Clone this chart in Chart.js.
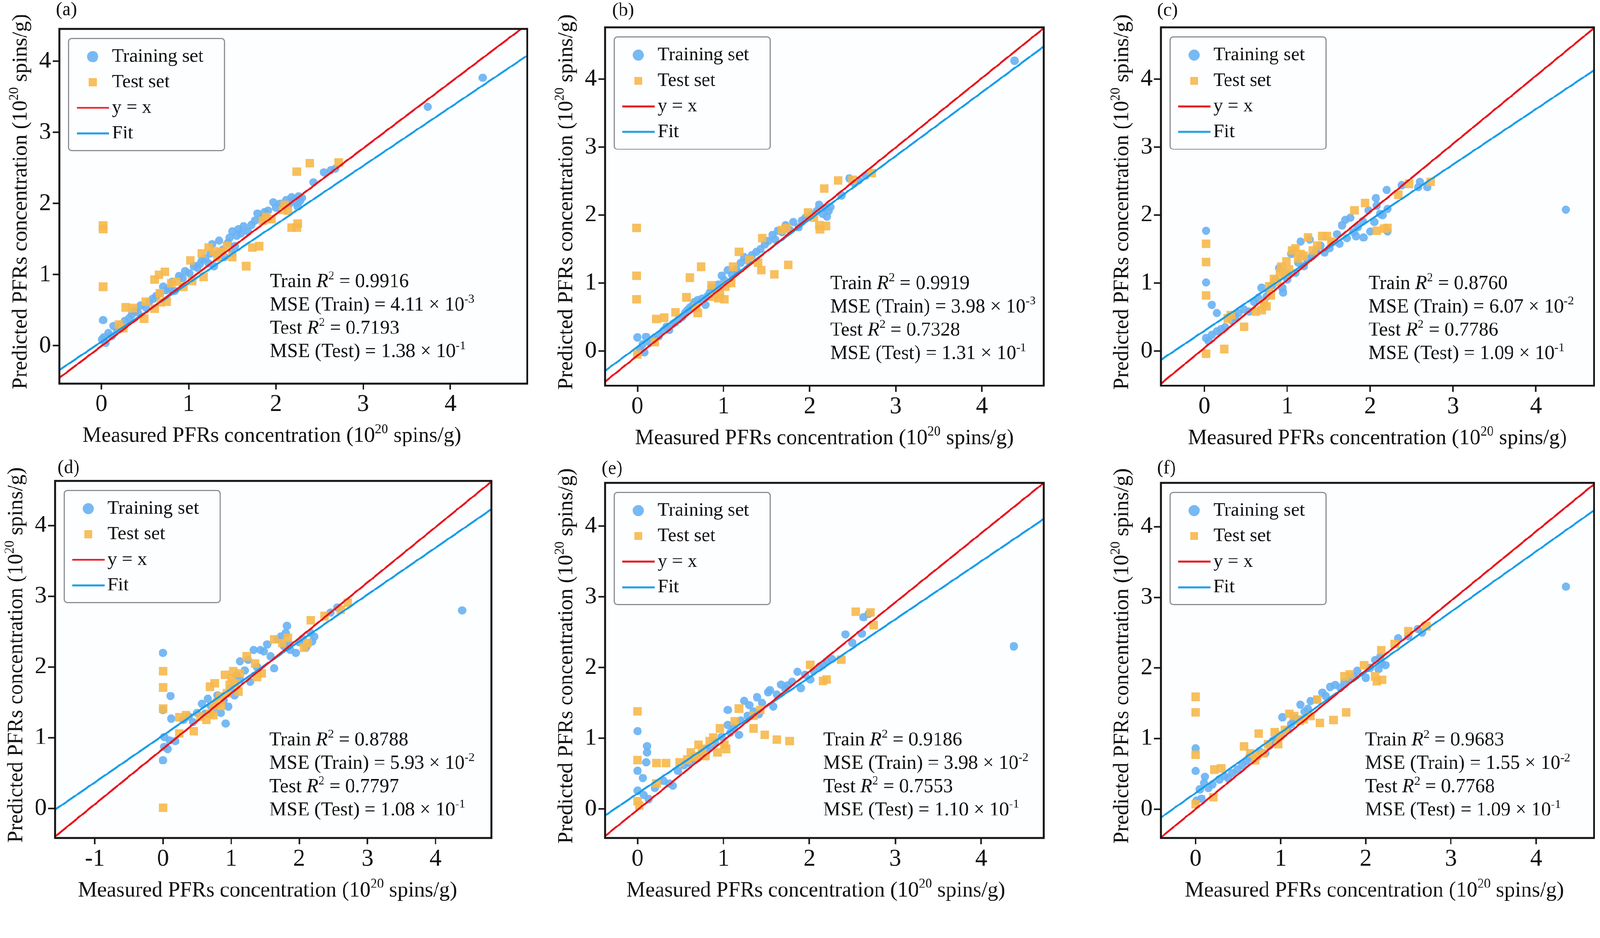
<!DOCTYPE html>
<html>
<head>
<meta charset="utf-8">
<title>PFRs prediction parity plots</title>
<script src="https://cdn.jsdelivr.net/npm/chart.js@4.4.1/dist/chart.umd.min.js"></script>
<style>
  html, body { margin: 0; padding: 0; background: #fff; overflow: hidden; }
  #page { width: 4252px; height: 2401px; position: relative; transform-origin: 0 0; }
  .cell { position: absolute; }
</style>
</head>
<body>
<div id="page">
  <div class="cell" id="cell-a"><canvas id="chart-a"></canvas></div>
  <div class="cell" id="cell-b"><canvas id="chart-b"></canvas></div>
  <div class="cell" id="cell-c"><canvas id="chart-c"></canvas></div>
  <div class="cell" id="cell-d"><canvas id="chart-d"></canvas></div>
  <div class="cell" id="cell-e"><canvas id="chart-e"></canvas></div>
  <div class="cell" id="cell-f"><canvas id="chart-f"></canvas></div>
</div>

<script>
// ---- data ----
const legendLabels = ["Training set", "Test set", "y = x", "Fit"];
const xTitle = ["Measured PFRs concentration (10", "20", " spins/g)"];
const yTitle = ["Predicted PFRs concentration (10", "20", " spins/g)"];
const xTicks = [0, 1, 2, 3, 4];
const xTicksD = [-1, 0, 1, 2, 3, 4];
const yTicks = [0, 1, 2, 3, 4];

// (a)
const trainA = [[0.02,0.36],[0.03,0.12],[0.05,0.04],[0.01,0.09],[0.14,0.28],[0.12,0.14],[0.08,0.18],[0.18,0.22],[0.22,0.30],
  [0.27,0.35],[0.32,0.39],[0.35,0.44],[0.38,0.49],[0.42,0.47],[0.45,0.57],[0.51,0.54],[0.55,0.62],[0.59,0.66],[0.63,0.70],
  [0.67,0.74],[0.71,0.83],[0.74,0.78],[0.78,0.80],[0.81,0.90],[0.84,0.77],[0.89,0.98],[0.93,0.95],[0.96,1.05],[1.01,1.02],
  [1.06,1.12],[1.10,1.10],[1.13,1.15],[1.15,1.20],[1.19,1.23],[1.23,1.16],[1.25,1.30],[1.27,1.43],[1.29,1.12],[1.33,1.29],
  [1.35,1.48],[1.39,1.35],[1.41,1.25],[1.45,1.45],[1.47,1.52],[1.50,1.61],[1.50,1.30],[1.53,1.40],[1.55,1.55],[1.57,1.64],
  [1.60,1.58],[1.63,1.68],[1.68,1.61],[1.72,1.70],[1.76,1.76],[1.79,1.86],[1.84,1.80],[1.87,1.88],[1.91,1.90],[1.97,2.02],
  [2.00,1.94],[2.05,2.00],[2.12,2.05],[2.16,2.00],[2.18,2.09],[2.21,2.06],[2.24,2.01],[2.25,1.96],[2.26,2.10],[2.28,2.04],
  [2.30,2.08],[2.43,2.30],[2.55,2.44],[2.63,2.47],[2.68,2.49],[3.74,3.36],[4.37,3.77]];
const testA = [[0.02,1.69],[0.02,1.64],[0.02,0.83],[0.20,0.30],[0.25,0.25],[0.28,0.54],[0.36,0.53],[0.49,0.38],[0.51,0.62],
  [0.61,0.52],[0.61,0.93],[0.66,1.00],[0.67,0.74],[0.68,0.61],[0.73,1.04],[0.75,0.62],[0.80,0.88],[0.86,0.90],[0.94,0.83],
  [1.02,1.20],[1.04,0.91],[1.15,1.30],[1.17,0.97],[1.23,1.38],[1.29,1.33],[1.33,1.25],[1.38,1.32],[1.44,1.40],[1.50,1.25],
  [1.66,1.12],[1.73,1.38],[1.81,1.40],[1.85,1.76],[1.89,1.81],[1.95,1.78],[2.08,1.91],[2.10,1.98],[2.14,1.90],[2.18,1.66],
  [2.24,1.66],[2.25,1.72],[2.24,2.45],[2.39,2.57],[2.72,2.58]];
const identityA = [[-0.48,-0.45],[4.81,4.455]];
const fitA = [[-0.48,-0.34],[4.88,4.08]];
const statsA = ["0.9916", "4.11", "-3", "0.7193", "1.38", "-1"];

// (b)
const trainB = [[0.00,0.20],[0.08,-0.02],[0.10,0.21],[0.03,0.02],[0.06,0.10],[0.15,0.12],[0.20,0.18],[0.25,0.22],[0.30,0.30],
  [0.34,0.36],[0.37,0.31],[0.41,0.40],[0.44,0.42],[0.48,0.47],[0.52,0.50],[0.55,0.56],[0.58,0.60],[0.61,0.64],[0.64,0.67],
  [0.66,0.72],[0.70,0.75],[0.75,0.77],[0.79,0.68],[0.81,0.80],[0.84,0.86],[0.86,0.93],[0.90,0.89],[0.94,0.98],[0.98,1.11],
  [1.01,1.04],[1.05,1.19],[1.10,1.12],[1.15,1.20],[1.20,1.30],[1.24,1.38],[1.28,1.33],[1.33,1.41],[1.38,1.46],[1.43,1.50],
  [1.48,1.57],[1.52,1.62],[1.57,1.71],[1.60,1.64],[1.63,1.77],[1.68,1.75],[1.72,1.85],[1.77,1.78],[1.81,1.90],[1.87,1.82],
  [1.91,1.92],[1.95,1.96],[2.02,2.00],[2.08,2.06],[2.11,2.15],[2.15,2.02],[2.18,2.10],[2.20,1.98],[2.22,2.06],[2.24,2.12],
  [2.37,2.29],[2.46,2.54],[2.52,2.47],[2.57,2.51],[2.65,2.58],[4.38,4.27]];
const testB = [[-0.01,1.81],[-0.01,1.11],[-0.01,0.76],[0.00,-0.05],[0.20,0.13],[0.22,0.47],[0.31,0.49],[0.44,0.57],[0.57,0.79],
  [0.61,1.08],[0.68,0.64],[0.70,0.56],[0.74,1.24],[0.86,0.97],[0.88,0.80],[0.94,0.78],[0.96,0.84],[1.01,0.76],[1.02,0.95],
  [1.09,1.00],[1.11,1.24],[1.18,1.46],[1.30,1.34],[1.40,1.30],[1.44,1.19],[1.45,1.66],[1.59,1.13],[1.68,1.78],[1.73,1.81],
  [1.75,1.27],[1.98,2.04],[2.05,1.96],[2.11,1.85],[2.12,1.79],[2.19,1.84],[2.17,2.39],[2.33,2.51],[2.50,2.52],[2.72,2.62]];
const identityB = [[-0.376,-0.45],[4.72,4.75]];
const fitB = [[-0.376,-0.29],[4.72,4.48]];
const statsB = ["0.9919", "3.98", "-3", "0.7328", "1.31", "-1"];

// (c)
const trainC = [[0.02,1.77],[0.02,1.01],[0.09,0.68],[0.15,0.56],[0.02,0.19],[0.05,0.15],[0.09,0.24],[0.15,0.29],[0.20,0.32],
  [0.25,0.35],[0.33,0.45],[0.37,0.50],[0.41,0.56],[0.48,0.61],[0.54,0.58],[0.60,0.72],[0.65,0.78],[0.69,0.93],[0.75,0.80],
  [0.78,0.88],[0.82,0.97],[0.86,1.05],[0.90,1.22],[0.94,0.93],[0.95,0.86],[1.00,1.05],[1.02,1.12],[1.05,1.43],[1.10,1.15],
  [1.13,1.30],[1.16,1.61],[1.20,1.25],[1.24,1.35],[1.27,1.64],[1.30,1.40],[1.35,1.48],[1.40,1.55],[1.45,1.45],[1.51,1.51],
  [1.55,1.60],[1.60,1.72],[1.63,1.58],[1.66,1.85],[1.70,1.93],[1.72,1.66],[1.76,1.96],[1.80,1.75],[1.83,1.69],[1.85,1.82],
  [1.91,1.91],[1.92,1.67],[1.98,2.07],[2.00,1.76],[2.05,1.90],[2.07,2.25],[2.08,2.14],[2.12,2.02],[2.15,2.00],[2.20,2.37],
  [2.21,2.09],[2.21,1.76],[2.38,2.44],[2.58,2.41],[2.60,2.49],[2.69,2.41],[4.36,2.08]];
const testC = [[0.02,1.58],[0.02,1.31],[0.02,0.82],[0.02,-0.04],[0.24,0.03],[0.28,0.48],[0.32,0.53],[0.48,0.36],[0.62,0.58],
  [0.69,0.60],[0.72,0.70],[0.75,0.66],[0.78,0.95],[0.80,0.82],[0.84,1.06],[0.88,1.02],[0.91,1.15],[0.93,1.24],[0.97,1.14],
  [0.99,1.32],[1.02,1.20],[1.06,1.48],[1.10,1.51],[1.13,1.36],[1.16,1.43],[1.20,1.40],[1.25,1.67],[1.31,1.48],[1.36,1.55],
  [1.42,1.69],[1.48,1.69],[1.53,1.61],[1.81,2.07],[1.94,2.18],[2.08,1.77],[2.17,1.80],[2.21,1.81],[2.34,2.30],[2.47,2.46],
  [2.73,2.49]];
const identityC = [[-0.525,-0.48],[4.70,4.75]];
const fitC = [[-0.525,-0.13],[4.70,4.13]];
const statsC = ["0.8760", "6.07", "-2", "0.7786", "1.09", "-1"];

// (d)
const trainD = [[0.00,2.20],[0.11,1.59],[0.00,1.39],[0.12,1.27],[0.02,1.01],[0.10,0.96],[0.02,0.87],[0.07,0.84],[0.18,0.95],
  [0.00,0.68],[0.30,1.25],[0.38,1.30],[0.44,1.22],[0.50,1.35],[0.57,1.48],[0.62,1.34],[0.66,1.55],[0.70,1.45],[0.75,1.40],
  [0.80,1.60],[0.85,1.35],[0.89,1.53],[0.92,1.20],[0.96,1.44],[1.00,1.70],[1.05,1.60],[1.08,1.88],[1.13,2.08],[1.13,1.82],
  [1.20,1.95],[1.25,2.10],[1.28,1.79],[1.33,2.24],[1.38,2.00],[1.43,2.24],[1.48,2.22],[1.53,2.32],[1.58,2.15],[1.63,1.98],
  [1.68,2.39],[1.73,2.43],[1.77,2.30],[1.80,2.48],[1.82,2.58],[1.85,2.32],[1.87,2.24],[1.95,2.20],[2.00,2.35],[2.05,2.40],
  [2.10,2.28],[2.17,2.48],[2.19,2.36],[2.22,2.43],[2.46,2.77],[2.56,2.84],[4.39,2.80]];
const testD = [[0.00,0.01],[0.00,1.94],[0.00,1.71],[0.00,1.41],[0.24,1.06],[0.24,1.29],[0.34,1.32],[0.45,1.09],[0.55,1.30],
  [0.64,1.25],[0.69,1.34],[0.74,1.46],[0.74,1.32],[0.69,1.72],[0.76,1.77],[0.80,1.50],[0.84,1.58],[0.85,1.45],[0.91,1.89],
  [0.94,1.63],[0.98,1.75],[1.01,1.84],[1.03,1.94],[1.06,1.77],[1.11,1.65],[1.13,1.91],[1.23,2.15],[1.35,2.05],[1.38,1.86],
  [1.45,1.91],[1.63,2.39],[1.75,2.34],[1.83,2.41],[2.07,2.27],[2.12,2.34],[2.17,2.66],[2.37,2.72],[2.61,2.81],[2.71,2.91]];
const identityD = [[-1.585,-0.40],[4.82,4.62]];
const fitD = [[-1.585,-0.02],[4.82,4.23]];
const statsD = ["0.8788", "5.93", "-2", "0.7797", "1.08", "-1"];

// (e)
const trainE = [[0.00,1.10],[0.11,0.89],[0.11,0.80],[0.10,0.66],[0.00,0.54],[0.06,0.44],[0.00,0.26],[0.07,0.20],[0.13,0.14],
  [0.20,0.30],[0.30,0.40],[0.37,0.36],[0.41,0.33],[0.47,0.54],[0.54,0.62],[0.60,0.65],[0.65,0.70],[0.70,0.72],[0.75,0.80],
  [0.80,0.85],[0.85,0.88],[0.90,0.95],[0.98,1.02],[1.05,1.40],[1.05,1.19],[1.08,1.08],[1.12,1.15],[1.18,1.05],[1.20,1.25],
  [1.24,1.53],[1.28,1.32],[1.30,1.47],[1.35,1.38],[1.39,1.58],[1.41,1.34],[1.45,1.50],[1.52,1.65],[1.54,1.68],[1.58,1.45],
  [1.62,1.62],[1.67,1.76],[1.72,1.70],[1.75,1.75],[1.80,1.80],[1.86,1.94],[1.90,1.71],[1.95,1.90],[2.01,1.83],[2.05,1.95],
  [2.12,2.01],[2.16,2.04],[2.20,2.09],[2.26,2.12],[2.42,2.47],[2.50,2.35],[2.61,2.48],[2.63,2.71],[2.69,2.76],[4.38,2.30]];
const testE = [[0.00,1.38],[0.00,0.69],[0.00,0.11],[0.02,0.05],[0.22,0.65],[0.33,0.65],[0.22,0.36],[0.49,0.66],[0.58,0.70],
  [0.62,0.80],[0.66,0.74],[0.69,0.75],[0.71,0.91],[0.75,0.85],[0.79,0.75],[0.84,0.96],[0.88,1.01],[0.93,0.80],[0.96,1.14],
  [1.01,0.91],[1.03,0.85],[1.13,1.24],[1.18,1.42],[1.35,1.14],[1.35,1.32],[1.43,1.40],[1.48,1.05],[1.62,0.98],[1.77,0.96],
  [2.01,2.04],[2.16,1.81],[2.20,1.83],[2.37,2.11],[2.54,2.79],[2.71,2.78],[2.75,2.60]];
const identityE = [[-0.379,-0.38],[4.73,4.61]];
const fitE = [[-0.379,-0.09],[4.73,4.10]];
const statsE = ["0.9186", "3.98", "-2", "0.7553", "1.10", "-1"];

// (f)
const trainF = [[0.00,0.86],[0.00,0.54],[0.11,0.46],[0.10,0.37],[0.05,0.28],[0.01,0.12],[0.07,0.15],[0.15,0.30],[0.20,0.35],
  [0.28,0.42],[0.34,0.47],[0.38,0.44],[0.43,0.51],[0.49,0.56],[0.55,0.62],[0.60,0.68],[0.63,0.74],[0.68,0.72],[0.76,0.81],
  [0.82,0.79],[0.87,0.90],[0.91,0.97],[0.95,1.00],[1.00,1.05],[1.02,1.30],[1.08,1.12],[1.12,1.20],[1.15,1.25],[1.18,1.28],
  [1.23,1.48],[1.28,1.38],[1.32,1.42],[1.35,1.53],[1.42,1.55],[1.49,1.65],[1.53,1.60],[1.58,1.73],[1.64,1.76],[1.70,1.72],
  [1.75,1.80],[1.81,1.83],[1.86,1.88],[1.90,1.96],[2.00,1.86],[2.05,2.00],[2.11,2.11],[2.15,1.98],[2.17,2.16],[2.19,2.06],
  [2.23,2.04],[2.38,2.42],[2.50,2.45],[2.61,2.55],[2.66,2.50],[4.35,3.15]];
const testF = [[0.00,1.59],[0.00,1.37],[0.00,0.77],[0.00,0.07],[0.21,0.17],[0.22,0.56],[0.30,0.58],[0.57,0.89],[0.64,0.79],
  [0.70,0.69],[0.72,0.76],[0.74,1.07],[0.80,0.79],[0.85,0.92],[0.93,1.09],[0.97,0.92],[0.99,1.04],[1.05,1.12],[1.10,1.35],
  [1.16,1.32],[1.22,1.25],[1.27,1.27],[1.35,1.32],[1.43,1.55],[1.46,1.22],[1.62,1.26],[1.77,1.37],[1.75,1.88],[1.81,1.91],
  [1.98,2.04],[2.11,1.88],[2.13,1.81],[2.19,1.83],[2.18,2.25],[2.34,2.34],[2.50,2.52],[2.71,2.59]];
const identityF = [[-0.408,-0.40],[4.68,4.60]];
const fitF = [[-0.408,-0.12],[4.68,4.23]];
const statsF = ["0.9683", "1.55", "-2", "0.7768", "1.09", "-1"];

// ---- layout (page pixels) ----
const SERIF = "'Liberation Serif', 'Times New Roman', Times, serif";
const INK = "#111111";
const FRAME = "#141414";
const RED = "#e8161e";
const BLUE = "#1a9de8";
const Y_AXIS_W = 140;
const X_AXIS_H = 170;

const panels = [
  { id: "a", cell: [0, 0, 1450, 1200], area: [158, 77, 1401, 1019], xr: [-0.48, 4.88], yr: [-0.53, 4.455], xt: xTicks,
    train: trainA, test: testA, identity: identityA, fit: fitA, stats: statsA, note: [1.93, 0.915], tag: [-9, 27], titleDx: -57 },
  { id: "b", cell: [1450, 0, 1400, 1200], area: [1608, 73, 2774, 1025], xr: [-0.376, 4.72], yr: [-0.51, 4.76], xt: xTicks,
    train: trainB, test: testB, identity: identityB, fit: fitB, stats: statsB, note: [2.24, 1.01], tag: [19, 29], titleDx: 0 },
  { id: "c", cell: [2850, 0, 1402, 1200], area: [3085, 73, 4248, 1025], xr: [-0.525, 4.70], yr: [-0.51, 4.76], xt: xTicks,
    train: trainC, test: testC, identity: identityC, fit: fitC, stats: statsC, note: [1.98, 1.01], tag: [-10, 29], titleDx: 0 },
  { id: "d", cell: [0, 1200, 1450, 1201], area: [146, 1278, 1306, 2227], xr: [-1.585, 4.82], yr: [-0.42, 4.63], xt: xTicksD,
    train: trainD, test: testD, identity: identityD, fit: fitD, stats: statsD, note: [1.56, 0.98], tag: [7, 44], titleDx: -15 },
  { id: "e", cell: [1450, 1200, 1400, 1201], area: [1608, 1283, 2774, 2227], xr: [-0.379, 4.73], yr: [-0.41, 4.61], xt: xTicks,
    train: trainE, test: testE, identity: identityE, fit: fitE, stats: statsE, note: [2.16, 0.99], tag: [-9, 46], titleDx: -23 },
  { id: "f", cell: [2850, 1200, 1402, 1201], area: [3085, 1283, 4248, 2227], xr: [-0.408, 4.68], yr: [-0.41, 4.62], xt: xTicks,
    train: trainF, test: testF, identity: identityF, fit: fitF, stats: statsF, note: [1.99, 0.99], tag: [-10, 45], titleDx: -8 }
];

// the photographed frame can be smaller than the CSS page: shrink to fit
const fitScale = Math.min(1 / (window.devicePixelRatio || 1), window.innerWidth / 4252, window.innerHeight / 2401);
if (fitScale < 0.999) document.getElementById("page").style.transform = `scale(${fitScale})`;

function toXY(pairs) {
  return pairs.map(([x, y]) => ({ x, y }));
}

// small canvas used as the legend swatch for the two lines
function lineSwatch(color) {
  const c = document.createElement("canvas");
  c.width = 86;
  c.height = 10;
  const g = c.getContext("2d");
  g.strokeStyle = color;
  g.lineWidth = 5;
  g.beginPath();
  g.moveTo(0, 5);
  g.lineTo(86, 5);
  g.stroke();
  return c;
}

function runFont(r, size) {
  if (r.s) return `${Math.round(size * 0.62)}px ${SERIF}`;
  if (r.i) return `italic ${size}px ${SERIF}`;
  return `${size}px ${SERIF}`;
}

function runsWidth(ctx, runs, size) {
  return runs.reduce((w, r) => { ctx.font = runFont(r, size); return w + ctx.measureText(r.t).width; }, 0);
}

// text with italic / superscript runs, y is the visual middle of the line
function drawRuns(ctx, x, y, runs, size) {
  let cx = x;
  const base = y + size * 0.33;
  runs.forEach((r) => {
    ctx.font = runFont(r, size);
    ctx.fillText(r.t, cx, r.s ? base - size * 0.4 : base);
    cx += ctx.measureText(r.t).width;
  });
}

function titleRuns(parts) {
  return [{ t: parts[0] }, { t: parts[1], s: true }, { t: parts[2] }];
}

const panelDecor = {
  id: "panelDecor",
  afterLayout(chart, args, opts) {
    const lg = chart.legend;
    if (lg) {
      lg.left = chart.chartArea.left + opts.legendDx;
      lg.top = chart.chartArea.top + opts.legendDy;
    }
  },
  beforeDraw(chart) {
    const { ctx, chartArea: a } = chart;
    ctx.save();
    ctx.fillStyle = "#fdfeff";
    ctx.fillRect(a.left, a.top, a.right - a.left, a.bottom - a.top);
    ctx.restore();
  },
  afterDraw(chart, args, opts) {
    const { ctx, chartArea: a, scales } = chart;
    ctx.save();

    // plot frame
    ctx.strokeStyle = FRAME;
    ctx.lineWidth = 5;
    ctx.strokeRect(a.left, a.top, a.right - a.left, a.bottom - a.top);

    // legend border
    const hb = chart.legend && chart.legend.legendHitBoxes;
    if (hb && hb.length) {
      const l = Math.min(...hb.map((h) => h.left)) + 25.5 - 64;
      const t = hb[0].top + 25.5 - 48;
      const r = Math.max(...hb.map((h) => h.left + h.width)) + 56;
      const b = hb[hb.length - 1].top + 25.5 + 46;
      ctx.strokeStyle = "#8c8f94";
      ctx.lineWidth = 3;
      ctx.beginPath();
      ctx.roundRect(l, t, r - l, b - t, 8);
      ctx.stroke();
    }

    ctx.fillStyle = INK;
    ctx.textAlign = "left";
    ctx.textBaseline = "alphabetic";

    // axis titles
    const ts = 57;
    const xr = titleRuns(xTitle);
    drawRuns(ctx, (a.left + a.right) / 2 + opts.titleDx - runsWidth(ctx, xr, ts) / 2, a.bottom + 136, xr, ts);
    const yr = titleRuns(yTitle);
    ctx.save();
    ctx.translate(a.left - 106, (a.top + a.bottom) / 2 - 12);
    ctx.rotate(-Math.PI / 2);
    drawRuns(ctx, -runsWidth(ctx, yr, ts) / 2, 0, yr, ts);
    ctx.restore();

    // statistics block
    const s = opts.stats;
    const nx = scales.x.getPixelForValue(opts.note[0]);
    const ny = scales.y.getPixelForValue(opts.note[1]);
    const fs = 52, lh = 62;
    drawRuns(ctx, nx, ny, [{ t: "Train " }, { t: "R", i: true }, { t: "2", s: true }, { t: " = " + s[0] }], fs);
    drawRuns(ctx, nx, ny + lh, [{ t: "MSE (Train) = " + s[1] + " \u00D7 10" }, { t: s[2], s: true }], fs);
    drawRuns(ctx, nx, ny + 2 * lh, [{ t: "Test " }, { t: "R", i: true }, { t: "2", s: true }, { t: " = " + s[3] }], fs);
    drawRuns(ctx, nx, ny + 3 * lh, [{ t: "MSE (Test) = " + s[4] + " \u00D7 10" }, { t: s[5], s: true }], fs);

    // panel tag
    ctx.font = `50px ${SERIF}`;
    ctx.textBaseline = "middle";
    ctx.fillText("(" + opts.label + ")", a.left + opts.tag[0], opts.tag[1]);
    ctx.restore();
  }
};

function makeChart(p) {
  const [cx, cy, cw, ch] = p.cell;
  const [al, at, ar, ab] = p.area;
  const cell = document.getElementById("cell-" + p.id);
  Object.assign(cell.style, { left: cx + "px", top: cy + "px", width: cw + "px", height: ch + "px" });

  const padding = {
    left: al - cx - Y_AXIS_W,
    top: at - cy,
    right: cx + cw - ar,
    bottom: cy + ch - ab - X_AXIS_H
  };

  new Chart(document.getElementById("chart-" + p.id), {
    type: "scatter",
    data: {
      datasets: [
        { label: legendLabels[0], data: toXY(p.train), pointStyle: "circle", pointRadius: 11,
          backgroundColor: "rgba(104,177,243,0.9)", borderWidth: 0, order: 4 },
        { label: legendLabels[1], data: toXY(p.test), pointStyle: "rect", pointRadius: 16,
          backgroundColor: "rgba(246,184,76,0.9)", borderWidth: 0, order: 3 },
        { label: legendLabels[2], data: toXY(p.identity), showLine: true, borderColor: RED, borderWidth: 5,
          backgroundColor: RED, pointRadius: 0, pointStyle: lineSwatch(RED), order: 1 },
        { label: legendLabels[3], data: toXY(p.fit), showLine: true, borderColor: BLUE, borderWidth: 5,
          backgroundColor: BLUE, pointRadius: 0, pointStyle: lineSwatch(BLUE), order: 2 }
      ]
    },
    options: {
      responsive: true,
      maintainAspectRatio: false,
      animation: false,
      events: [],
      layout: { padding },
      scales: {
        x: {
          type: "linear",
          min: p.xr[0],
          max: p.xr[1],
          afterBuildTicks: (s) => { s.ticks = p.xt.map((v) => ({ value: v })); },
          afterFit: (s) => { s.height = X_AXIS_H; },
          border: { display: false },
          grid: { drawOnChartArea: false, drawTicks: true, tickLength: 16, tickWidth: 4, tickColor: FRAME },
          ticks: { color: INK, padding: 2, autoSkip: false, maxRotation: 0, font: { family: SERIF, size: 64 } },
          title: { display: false }
        },
        y: {
          type: "linear",
          min: p.yr[0],
          max: p.yr[1],
          afterBuildTicks: (s) => { s.ticks = yTicks.map((v) => ({ value: v })); },
          afterFit: (s) => { s.width = Y_AXIS_W; },
          border: { display: false },
          grid: { drawOnChartArea: false, drawTicks: true, tickLength: 18, tickWidth: 4, tickColor: FRAME },
          ticks: { color: INK, padding: 4, autoSkip: false, font: { family: SERIF, size: 64 } },
          title: { display: false }
        }
      },
      plugins: {
        tooltip: { enabled: false },
        legend: {
          position: "chartArea",
          align: "start",
          labels: {
            usePointStyle: true,
            boxWidth: 51,
            boxHeight: 21,
            padding: 17,
            color: INK,
            font: { family: SERIF, size: 51 },
            sort: (a, b) => a.datasetIndex - b.datasetIndex
          }
        },
        panelDecor: { legendDx: 46, legendDy: 31, stats: p.stats, note: p.note, label: p.id, tag: p.tag, titleDx: p.titleDx }
      }
    },
    plugins: [panelDecor]
  });
}

panels.forEach(makeChart);
</script>
</body>
</html>
